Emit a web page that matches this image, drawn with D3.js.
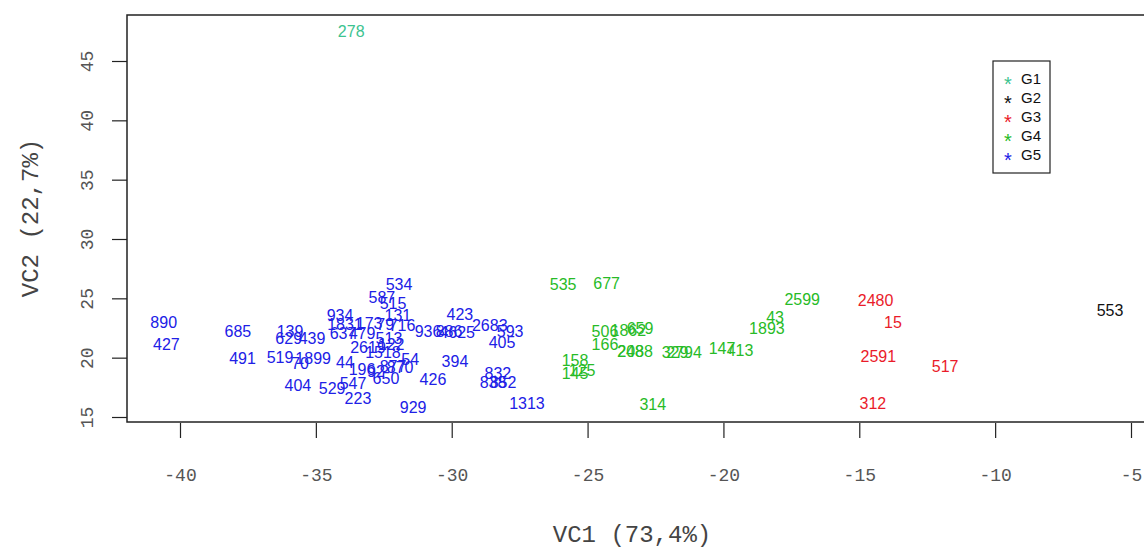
<!DOCTYPE html>
<html>
<head>
<meta charset="utf-8">
<script src="https://cdn.jsdelivr.net/npm/d3@7"></script>
<style>
	body { margin: 0; background: #fff; }
	.tick text { font-family: "Liberation Mono", "DejaVu Sans Mono", monospace; font-size: 18px; fill: #555; }
	.title { font-family: "Liberation Mono", "DejaVu Sans Mono", monospace; font-size: 24px; fill: #444; }
	.pt { font-family: "Liberation Sans", Arial, sans-serif; font-size: 16px; }
	.leg { font-family: "Liberation Sans", Arial, sans-serif; font-size: 15px; }
</style>
</head>
<body>
<svg id="svg"></svg>
<script>
var width = 1144, height = 548;

// groups and their colours
var groups = ["G1", "G2", "G3", "G4", "G5"];
var groupColors = ["#3cc390", "#111111", "#ea1b2a", "#27bb27", "#2020e6"];

// point labels, VC1, VC2 and group of every observation
var pointLabels = [
	"278",
	"553",
	"2480", "15", "2591", "517", "312",
	"535", "677", "2599", "43", "1893", "506", "1862", "659", "166", "248", "2088", "329", "2794",
	"147", "413", "158", "145", "125", "314",
	"890", "427", "685", "491", "139", "629", "439", "519", "70", "1899", "404", "529", "223", "547",
	"44", "196", "929", "426", "394", "534", "587", "515", "131", "934", "1831", "173", "79", "716",
	"637", "479", "513", "2619", "122", "1518", "54", "870", "877", "92", "650", "936", "886", "4625",
	"423", "2683", "593", "405", "832", "838", "852", "1313"
];
var pointVC1 = [
	-33.7,
	-5.77,
	-14.4, -13.76, -14.3, -11.84, -14.5,
	-25.9, -24.3, -17.1, -18.1, -18.4, -24.36, -23.5, -23.07, -24.36, -23.42, -23.25, -21.78, -21.45,
	-20.05, -19.39, -25.46, -25.46, -25.2, -22.6,
	-40.6, -40.5, -37.87, -37.7, -35.95, -36.0, -35.14, -36.32, -35.58, -35.1, -35.66, -34.4, -33.45, -33.63,
	-33.93, -33.3, -31.42, -30.69, -29.88, -31.94, -32.57, -32.16, -31.98, -34.11, -33.93, -33.04, -32.45, -31.83,
	-34.0, -33.3, -32.31, -33.08, -32.23, -32.53, -31.53, -31.9, -32.16, -32.79, -32.42, -30.87, -30.1, -29.8,
	-29.7, -28.6, -27.85, -28.15, -28.3, -28.48, -28.11, -27.23
];
var pointVC2 = [
	47.5,
	24.0,
	24.8, 23.0, 20.1, 19.3, 16.2,
	26.2, 26.3, 24.9, 23.4, 22.5, 22.2, 22.3, 22.5, 21.1, 20.56, 20.56, 20.48, 20.48,
	20.8, 20.6, 19.8, 18.7, 18.96, 16.1,
	23.0, 21.1, 22.25, 19.97, 22.2, 21.66, 21.66, 20.06, 19.55, 19.97, 17.7, 17.45, 16.6, 17.87,
	19.64, 19.05, 15.84, 18.2, 19.72, 26.2, 25.1, 24.6, 23.6, 23.6, 22.84, 22.93, 22.84, 22.76,
	22.08, 22.08, 21.66, 20.9, 21.15, 20.48, 19.9, 19.2, 19.3, 18.88, 18.29, 22.25, 22.25, 22.17,
	23.7, 22.75, 22.25, 21.3, 18.7, 17.95, 17.95, 16.2
];
var pointGroup = [
	"G1",
	"G2",
	"G3", "G3", "G3", "G3", "G3",
	"G4", "G4", "G4", "G4", "G4", "G4", "G4", "G4", "G4", "G4", "G4", "G4", "G4",
	"G4", "G4", "G4", "G4", "G4", "G4",
	"G5", "G5", "G5", "G5", "G5", "G5", "G5", "G5", "G5", "G5", "G5", "G5", "G5", "G5",
	"G5", "G5", "G5", "G5", "G5", "G5", "G5", "G5", "G5", "G5", "G5", "G5", "G5", "G5",
	"G5", "G5", "G5", "G5", "G5", "G5", "G5", "G5", "G5", "G5", "G5", "G5", "G5", "G5",
	"G5", "G5", "G5", "G5", "G5", "G5", "G5", "G5"
];

var xTicks = [-40, -35, -30, -25, -20, -15, -10, -5];
var yTicks = [15, 20, 25, 30, 35, 40, 45];

var svg = d3.select("#svg")
	.attr("width", width)
	.attr("height", height);

var color = d3.scaleOrdinal()
	.domain(groups)
	.range(groupColors);

var x = d3.scaleLinear()
	.domain([-40, -5])
	.range([180, 1131]);
var y = d3.scaleLinear()
	.domain([15, 45])
	.range([417, 61]);

var data = pointLabels.map(function(l, i) {
	return { label: l, vc1: pointVC1[i], vc2: pointVC2[i], group: pointGroup[i] };
});

// plot frame
svg.append("rect")
	.attr("x", 127)
	.attr("y", 15)
	.attr("width", 1160 - 127)
	.attr("height", 422 - 15)
	.style("fill", "none")
	.style("stroke", "#222")
	.style("stroke-width", 1.5);

var xAxis = d3.axisBottom(x)
	.tickValues(xTicks)
	.tickSize(15)
	.tickPadding(30)
	.tickFormat(d3.format("d"));
var gx = svg.append("g")
	.attr("transform", "translate(0,423)")
	.call(xAxis);
gx.select(".domain").remove();
gx.selectAll(".tick line").style("stroke", "#222").style("stroke-width", 1.2);
gx.selectAll(".tick text").text(function(d) { return d; });

var yAxis = d3.axisLeft(y)
	.tickValues(yTicks)
	.tickSize(15)
	.tickFormat(d3.format("d"));
var gy = svg.append("g")
	.attr("transform", "translate(127,0)")
	.call(yAxis);
gy.select(".domain").remove();
gy.selectAll(".tick line").style("stroke", "#222").style("stroke-width", 1.2);
gy.selectAll(".tick text")
	.attr("x", null)
	.attr("dy", null)
	.attr("transform", "translate(-39,0) rotate(-90)")
	.style("text-anchor", "middle")
	.style("dominant-baseline", "central");

// axis titles
svg.append("text")
	.attr("class", "title")
	.attr("x", 632)
	.attr("y", 542)
	.style("text-anchor", "middle")
	.text("VC1 (73,4%)");
svg.append("text")
	.attr("class", "title")
	.attr("transform", "translate(38,218) rotate(-90)")
	.style("text-anchor", "middle")
	.text("VC2 (22,7%)");

// point labels
svg.append("g")
	.selectAll("text")
	.data(data)
	.enter()
	.append("text")
	.attr("class", "pt")
	.attr("x", function(d) { return x(d.vc1); })
	.attr("y", function(d) { return y(d.vc2); })
	.attr("dy", "0.36em")
	.style("text-anchor", "middle")
	.style("fill", function(d) { return color(d.group); })
	.text(function(d) { return d.label; });

// legend
var leg = svg.append("g").attr("transform", "translate(993,61)");
leg.append("rect")
	.attr("width", 57)
	.attr("height", 112)
	.style("fill", "#fff")
	.style("stroke", "#222")
	.style("stroke-width", 1.2);
var item = leg.selectAll(".item")
	.data(groups)
	.enter()
	.append("g")
	.attr("transform", function(d, i) { return "translate(0," + (18 + i * 19) + ")"; });
item.append("text")
	.attr("class", "leg")
	.attr("x", 15)
	.attr("dy", "0.62em")
	.style("text-anchor", "middle")
	.style("font-size", "20px")
	.style("fill", function(d) { return color(d); })
	.text("*");
item.append("text")
	.attr("class", "leg")
	.attr("x", 28)
	.attr("dy", "0.36em")
	.style("fill", "#111")
	.text(function(d) { return d; });
</script>
</body>
</html>
